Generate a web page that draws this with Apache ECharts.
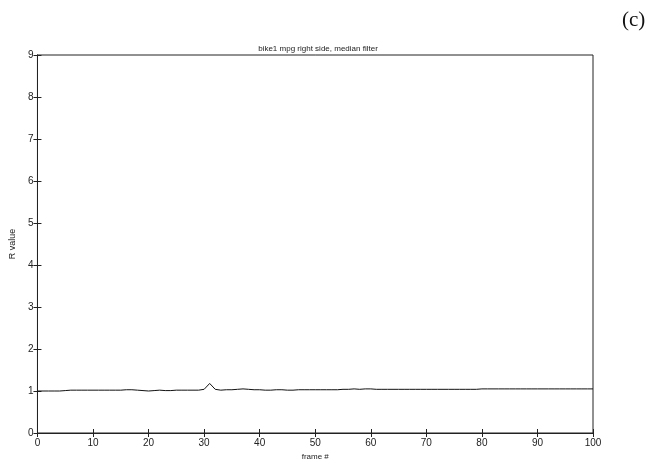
<!DOCTYPE html>
<html>
<head>
<meta charset="utf-8">
<script src="https://cdn.jsdelivr.net/npm/echarts@6/dist/echarts.min.js"></script>
<style>
html, body { margin: 0; padding: 0; background: #fff; }
#main { width: 655px; height: 466px; }
</style>
</head>
<body>
<div id="main"></div>
<script>
// frame numbers and R values
var frames = [];
for (var i = 0; i <= 100; i++) frames.push(i);
var rValues = [
	1.00, 1.00, 1.00, 1.00, 1.00, 1.01, 1.02, 1.02, 1.02, 1.02,
	1.02, 1.02, 1.02, 1.02, 1.02, 1.02, 1.03, 1.03, 1.02, 1.01,
	1.00, 1.01, 1.02, 1.01, 1.01, 1.02, 1.02, 1.02, 1.02, 1.02,
	1.04, 1.18, 1.04, 1.02, 1.03, 1.03, 1.04, 1.05, 1.04, 1.03,
	1.03, 1.02, 1.02, 1.03, 1.03, 1.02, 1.02, 1.03, 1.03, 1.03,
	1.03, 1.03, 1.03, 1.03, 1.03, 1.04, 1.04, 1.05, 1.04, 1.05,
	1.05, 1.04, 1.04, 1.04, 1.04, 1.04, 1.04, 1.04, 1.04, 1.04,
	1.04, 1.04, 1.04, 1.04, 1.04, 1.04, 1.04, 1.04, 1.04, 1.04,
	1.05, 1.05, 1.05, 1.05, 1.05, 1.05, 1.05, 1.05, 1.05, 1.05,
	1.05, 1.05, 1.05, 1.05, 1.05, 1.05, 1.05, 1.05, 1.05, 1.05,
	1.05
];

var chart = echarts.init(document.getElementById('main'));

var labelFont = { color: '#222', fontSize: 10, fontFamily: 'Liberation Sans' };
var tick = { show: true, inside: true, length: 4, lineStyle: { color: '#222' } };

var option = {
	backgroundColor: '#fff',
	animation: false,
	title: {
		text: 'bike1 mpg right side, median filter',
		left: 313, top: 40, textAlign: 'center',
		textStyle: { fontSize: 8, fontWeight: 'normal', color: '#222', fontFamily: 'Liberation Sans' }
	},
	grid: {
		left: 33, right: 62, top: 55, bottom: 25,
		show: true, borderColor: '#222', borderWidth: 1
	},
	xAxis: [{
		type: 'value', min: 0, max: 100, interval: 10,
		name: 'frame #', nameLocation: 'middle', nameGap: 20,
		nameTextStyle: { fontSize: 8, color: '#222', fontFamily: 'Liberation Sans' },
		axisLine: { show: true, lineStyle: { color: '#222' } },
		axisTick: tick,
		axisLabel: Object.assign({ margin: 5 }, labelFont),
		splitLine: { show: false }
	}, {
		type: 'value', position: 'top', min: 0, max: 100, interval: 10,
		axisLine: { show: true, lineStyle: { color: '#222' } },
		axisTick: tick, axisLabel: { show: false }, splitLine: { show: false }
	}],
	yAxis: [{
		type: 'value', min: 0, max: 9, interval: 1,
		name: 'R value', nameLocation: 'middle', nameGap: 12, nameRotate: 90,
		nameTextStyle: { fontSize: 9, color: '#222', fontFamily: 'Liberation Sans' },
		axisLine: { show: true, lineStyle: { color: '#222' } },
		axisTick: tick,
		axisLabel: Object.assign({ margin: 4 }, labelFont),
		splitLine: { show: false }
	}, {
		type: 'value', position: 'right', min: 0, max: 9, interval: 1,
		axisLine: { show: true, lineStyle: { color: '#222' } },
		axisTick: tick, axisLabel: { show: false }, splitLine: { show: false }
	}],
	graphic: [{
		type: 'text', left: 622, top: 10,
		style: { text: '(c)', fontSize: 21, fill: '#111', fontFamily: 'Liberation Serif' }
	}],
	series: [{
		type: 'line',
		data: frames.map(function(f, i) { return [f, rValues[i]]; }),
		showSymbol: false,
		lineStyle: { color: '#111', width: 1 }
	}]
};

chart.setOption(option);
</script>
</body>
</html>
